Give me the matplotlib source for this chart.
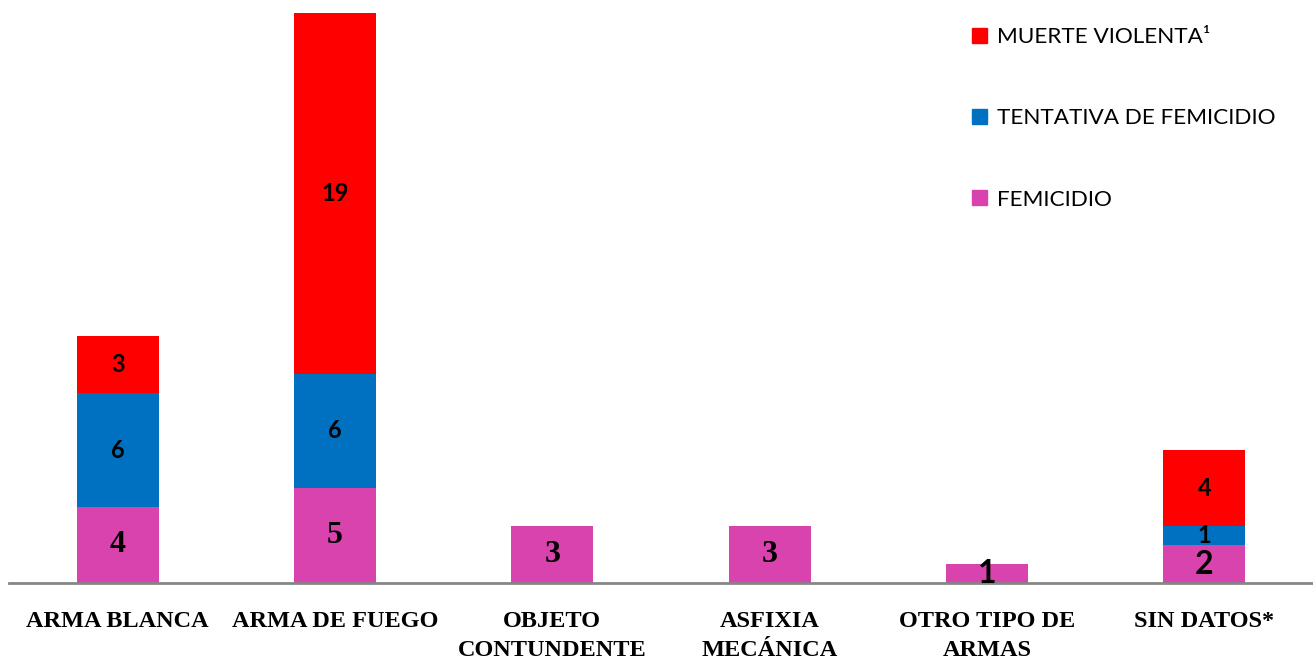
import numpy as np
import matplotlib
matplotlib.use("Agg")
import matplotlib.pyplot as plt
from matplotlib.patches import Patch

categories = ["ARMA BLANCA", "ARMA DE FUEGO", "OBJETO\nCONTUNDENTE",
              "ASFIXIA\nMECÁNICA", "OTRO TIPO DE\nARMAS", "SIN DATOS*"]
femicidio = [4, 5, 3, 3, 1, 2]
tentativa = [6, 6, 0, 0, 0, 1]
muerte = [3, 19, 0, 0, 0, 4]

c_fem = "#D943AD"
c_ten = "#0070C0"
c_mue = "#FF0000"
serif = "Liberation Serif"
sans = "Lato"

fig = plt.figure(figsize=(13.13, 6.62), dpi=100)
ax = fig.add_axes([9 / 1313, 1 - 583 / 662, 1 - 9 / 1313, (583 - 13) / 662])

x = np.arange(len(categories))
w = 0.376
fem = np.array(femicidio)
ten = np.array(tentativa)
mue = np.array(muerte)
ax.bar(x, fem, w, color=c_fem)
ax.bar(x, ten, w, bottom=fem, color=c_ten)
ax.bar(x, mue, w, bottom=fem + ten, color=c_mue)

# data labels
fem_fonts = [serif, serif, serif, serif, sans, sans]
for i in range(len(x)):
    ax.text(x[i], fem[i] / 2, str(fem[i]), ha="center", va="center",
            fontsize=23, fontweight="bold", family=fem_fonts[i])
    if ten[i] > 0:
        ax.text(x[i], fem[i] + ten[i] / 2, str(ten[i]), ha="center", va="center",
                fontsize=17, fontweight="bold", family=sans)
    if mue[i] > 0:
        ax.text(x[i], fem[i] + ten[i] + mue[i] / 2, str(mue[i]), ha="center",
                va="center", fontsize=17, fontweight="bold", family=sans)

ax.set_xlim(-0.5, 5.5)
ax.set_ylim(0, 30)
for s in ["top", "right", "left"]:
    ax.spines[s].set_visible(False)
ax.spines["bottom"].set_color("#868686")
ax.spines["bottom"].set_linewidth(2)
ax.set_yticks([])
ax.set_xticks(x)
ax.set_xticklabels(categories, fontsize=17.5, fontweight="bold", family=serif,
                   linespacing=1.5)
ax.tick_params(axis="x", length=0, pad=20)

handles = [Patch(color=c_mue, label="MUERTE VIOLENTA¹"),
           Patch(color=c_ten, label="TENTATIVA DE FEMICIDIO"),
           Patch(color=c_fem, label="FEMICIDIO")]
leg = fig.legend(handles=handles, loc="upper left", bbox_to_anchor=(952 / 1313, 1 - 7 / 662),
                 frameon=False, prop={"family": sans, "size": 16.2},
                 handlelength=0.64, handleheight=0.64, handletextpad=0.45,
                 labelspacing=2.72)

fig.savefig("out.png", dpi=100)
